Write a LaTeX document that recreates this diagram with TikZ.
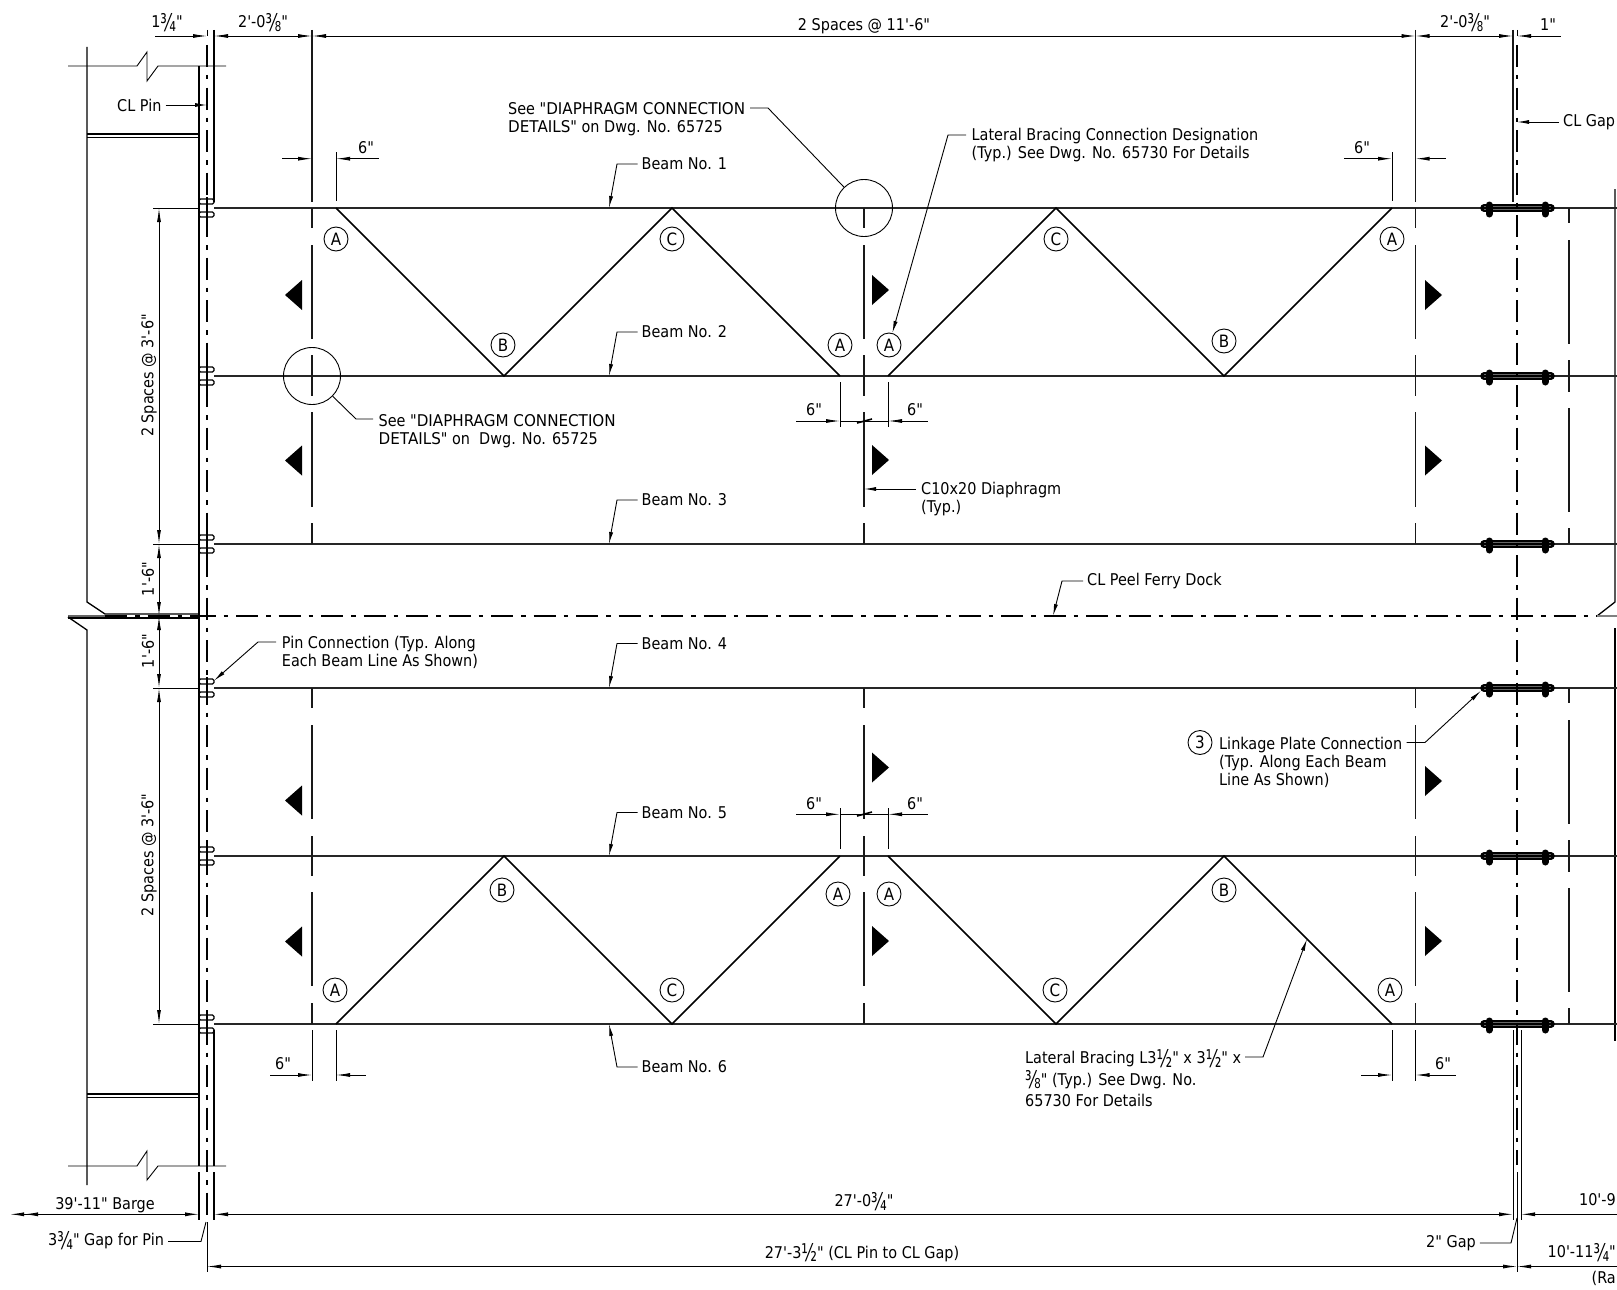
\documentclass[tikz,border=0pt]{standalone}
\usepackage{fontspec}
\setmainfont{DejaVu Sans}[FakeStretch=0.89,Ligatures=TeXOff]
\newfontface\capsface{DejaVu Sans}[FakeStretch=0.935,Ligatures=TeXOff]
\newcommand{\frc}[1]{\smash{\raisebox{-3.5pt}{\scalebox{1.12}[1.5]{#1}}}}
\usetikzlibrary{arrows.meta}
\usetikzlibrary{positioning}
\tikzset{>={Latex[length=14pt,width=4pt]},
  lbl/.style={inner xsep=4pt,inner ysep=0pt,align=left,font=\fontsize{16.2}{18}\selectfont},
  beamline/.style={line width=1.8pt,draw=black!85},
  wall/.style={line width=1.3pt},
  brace/.style={line width=1.6pt},
  hidden/.style={line width=1.4pt,draw=black!90},
  dimline/.style={line width=0.9pt},
  lead/.style={line width=0.9pt,-{Latex[length=12pt,width=4pt]}},
  cline/.style={line width=1.4pt,dash pattern=on 22pt off 8pt on 4.5pt off 8pt},
  tag/.style={circle,draw,line width=0.9pt,minimum size=24pt,inner sep=0pt,font=\fontsize{17}{18}\selectfont},
  bigcirc/.style={circle,draw,line width=0.9pt,minimum size=57pt,inner sep=0pt},
  flag/.style={fill=black}}

\begin{document}
\begin{tikzpicture}[x=1pt,y=-1pt]
\useasboundingbox (0,0) rectangle (1617,1290);
\clip (0,0) rectangle (1617,1290);

% barge end
\draw[wall] (87,47) -- (87,602) -- (105,614) -- (199,614);
\draw[wall] (68,618) -- (199,618);
\draw[line width=2pt,draw=black!60] (68,616) -- (105,616);
\draw[wall] (68,617) -- (87,630) -- (87,1185);
\draw[wall] (199,66) -- (199,1166);
\draw[wall] (199,1172) -- (199,1220);
\draw[wall] (214,30) -- (214,202);
\draw[wall] (214,1030) -- (214,1166);
\draw[wall] (214,1172) -- (214,1220);
\draw[wall] (87,134) -- (199,134);
\draw[wall] (87,137.7) -- (199,137.7);
\draw[wall] (87,1094) -- (199,1094);
\draw[wall] (87,1097.7) -- (199,1097.7);
\draw[dimline] (68,66) -- (137,66) -- (147,52) -- (147,81) -- (158,66) -- (226,66);
\draw[dimline] (68,1166) -- (137,1166) -- (147,1151) -- (147,1180) -- (158,1166) -- (226,1166);

% right hand barge
\draw[wall] (1615,189) -- (1615,602) -- (1597,616);
\draw[wall] (1615,628) -- (1615,1041);
\draw[line width=2pt,draw=black!50] (1597,616) -- (1617,616);

% beams and centre lines
\foreach \y in {208,376,544,688,856,1024} {
  \draw[beamline] (214,\y) -- (1617,\y);
  \draw[wall,rounded corners=1.5pt] (199,\y-9) rectangle (214,\y-4);
  \draw[wall,rounded corners=1.5pt] (199,\y+4) rectangle (214,\y+9);
  \draw[wall] (207,\y-11) -- (207,\y+11);
  \draw[line width=7.6pt,line cap=round,draw=black] (1484,\y) -- (1551,\y);
  \draw[line width=0.6pt,draw=black!60] (1484,\y-1.5) -- (1551,\y-1.5);
  \draw[line width=0.6pt,draw=black!60] (1484,\y+1.5) -- (1551,\y+1.5);
  \draw[line width=7pt,line cap=round] (1489,\y-3) -- (1489,\y+6);
  \draw[line width=7pt,line cap=round] (1545,\y-3) -- (1545,\y+6);
}
\draw[cline,dash phase=5.5pt] (199,616) -- (1597,616);
\draw[cline] (105,616) -- (199,616);
\draw[cline] (207,45) -- (207,1218);
\draw[cline] (1517,45) -- (1517,1165);

% diaphragm lines
\foreach \x in {312,864,1415.5} {
  \draw[hidden] (\x,208) -- (\x,228);
  \draw[hidden] (\x,245) -- (\x,339);
  \draw[hidden] (\x,355) -- (\x,396);
  \draw[hidden] (\x,412) -- (\x,507);
  \draw[hidden] (\x,523) -- (\x,544);
  \draw[hidden] (\x,688) -- (\x,708);
  \draw[hidden] (\x,725) -- (\x,819);
  \draw[hidden] (\x,836) -- (\x,876);
  \draw[hidden] (\x,892) -- (\x,986);
  \draw[hidden] (\x,1003) -- (\x,1024);
}
\draw[hidden] (312,30) -- (312,202);
\draw[hidden] (1415.5,30) -- (1415.5,202);
\draw[hidden] (1513,30) -- (1513,202);
\foreach \a/\b in {208/223,240/344,360/392,408/512,528/544,688/703,720/824,840/872,888/992,1008/1024}
  \draw[hidden] (1569,\a) -- (1569,\b);
\draw[dimline] (1513,1030) -- (1513,1220);
\draw[dimline] (1521,1030) -- (1521,1220);

% section flags
\foreach \y in {295,460.5,800.5,941.5}
  \fill[flag] (285,\y) -- (302,\y-15) -- (302,\y+15) -- cycle;
\foreach \y in {290,460,767.5,941}
  \fill[flag] (889,\y) -- (872,\y-15) -- (872,\y+15) -- cycle;
\foreach \y in {295,460.5,781,941}
  \fill[flag] (1442,\y) -- (1425,\y-15) -- (1425,\y+15) -- cycle;

% lateral bracing
\draw[brace] (336,208) -- (504,376) -- (672,208) -- (840,376);
\draw[brace] (888,376) -- (1056,208) -- (1224,376) -- (1392,208);
\draw[brace] (336,1024) -- (504,856) -- (672,1024) -- (840,856);
\draw[brace] (888,856) -- (1056,1024) -- (1224,856) -- (1392,1024);
\node (a1) at (336,239) [tag] {A};
\node (c1) at (672,239) [tag] {C};
\node (b1) at (503,345) [tag] {B};
\node (a2) at (840,345) [tag] {A};
\node (a3) at (889,345) [tag] {A};
\node (c2) at (1056,239) [tag] {C};
\node (b2) at (1224,341) [tag] {B};
\node (a4) at (1392,239) [tag] {A};
\node (a5) at (335,990) [tag] {A};
\node (b3) at (502,890) [tag] {B};
\node (c3) at (672,990) [tag] {C};
\node (a6) at (838,894) [tag] {A};
\node (a7) at (889,894) [tag] {A};
\node (c4) at (1055,990) [tag] {C};
\node (b4) at (1224,890) [tag] {B};
\node (a8) at (1390,990) [tag] {A};
\node (circ1) at (864,208) [bigcirc] {};
\node (circ2) at (312,376) [bigcirc] {};
\node (three) at (1200,742.5) [tag] {3};

% top dimensions
\node (d1) at (167,22) [lbl] {1\frc{¾}"};
\node (d2) at (263,22) [lbl] {2'-0\frc{⅜}"};
\node (d3) at (864,26) [lbl] {2 Spaces @ 11'-6"};
\node (d4) at (1465,22) [lbl] {2'-0\frc{⅜}"};
\node (d5) at (1548,25) [lbl] {1"};
\draw[dimline] (207,30) -- (207,36);
\draw[dimline] (1517,30) -- (1517,36);
\draw[dimline,->] (155,36) -- (207,36);
\draw[dimline,<->] (214,36) -- (312,36);
\draw[dimline,<->] (312,36) -- (1415.5,36);
\draw[dimline,<->] (1415.5,36) -- (1513,36);
\draw[dimline,<-] (1517,36) -- (1561,36);

% six inch offsets
\draw[dimline] (336,152) -- (336,201);
\draw[dimline] (1392,152) -- (1392,201);
\draw[dimline,->] (282,158.7) -- (312,158.7);
\draw[dimline,<-] (336,158.7) -- (379,158.7);
\draw[dimline,->] (1344,158.7) -- (1392,158.7);
\draw[dimline,<-] (1415.5,158.7) -- (1446,158.7);
\node (s1) at (366,148) [lbl] {6"};
\node (s2) at (1362,148) [lbl] {6"};
\draw[dimline] (840,382) -- (840,427);
\draw[dimline] (888,382) -- (888,427);
\draw[dimline,->] (796,421) -- (840,421);
\draw[dimline,<-] (888,421) -- (928,421);
\draw[dimline] (840,421) -- (888,421);
\draw[line width=1.6pt] (857,423) -- (872,419);
\node (s3) at (814,410) [lbl] {6"};
\node (s4) at (915,410) [lbl] {6"};
\draw[dimline] (840,808) -- (840,849);
\draw[dimline] (888,808) -- (888,849);
\draw[dimline,->] (796,814.3) -- (840,814.3);
\draw[dimline,<-] (888,814.3) -- (928,814.3);
\draw[dimline] (840,814.3) -- (888,814.3);
\draw[line width=1.6pt] (857,816) -- (872,812);
\node (s5) at (814,804) [lbl] {6"};
\node (s6) at (915,804) [lbl] {6"};
\draw[dimline] (312,1030) -- (312,1081);
\draw[dimline] (336,1030) -- (336,1081);
\draw[dimline] (1392,1030) -- (1392,1081);
\draw[dimline] (1415.5,1030) -- (1415.5,1081);
\draw[dimline,->] (270,1075) -- (312,1075);
\draw[dimline,<-] (336,1075) -- (366,1075);
\draw[dimline,->] (1361,1075) -- (1392,1075);
\draw[dimline,<-] (1415.5,1075) -- (1456,1075);
\node (s7) at (283,1064) [lbl] {6"};
\node (s8) at (1443,1064) [lbl] {6"};

% vertical dimensions
\draw[dimline] (153,208) -- (199,208);
\draw[dimline] (153,544) -- (199,544);
\draw[dimline] (153,688) -- (199,688);
\draw[dimline] (153,1024) -- (199,1024);
\draw[dimline,<->] (159,208) -- (159,544);
\draw[dimline,<->] (159,544) -- (159,616);
\draw[dimline,<->] (159,616) -- (159,688);
\draw[dimline,<->] (159,688) -- (159,1024);
\node (v1) at (149,375.5) [lbl,rotate=90] {2 Spaces @ 3'-6"};
\node (v2) at (148,579) [lbl,rotate=90] {1'-6"};
\node (v3) at (148,651) [lbl,rotate=90] {1'-6"};
\node (v4) at (149,855) [lbl,rotate=90] {2 Spaces @ 3'-6"};

% beam labels
\node (beam1) at (637.5,164) [lbl,anchor=west] {Beam No. 1};
\node (beam2) at (637.5,332) [lbl,anchor=west] {Beam No. 2};
\node (beam3) at (637.5,500) [lbl,anchor=west] {Beam No. 3};
\node (beam4) at (637.5,643.5) [lbl,anchor=west] {Beam No. 4};
\node (beam5) at (637.5,812.5) [lbl,anchor=west] {Beam No. 5};
\node (beam6) at (637.5,1067) [lbl,anchor=west] {Beam No. 6};
\coordinate (tip1) at (609,208);
\coordinate (tip2) at (609,376);
\coordinate (tip3) at (609,544);
\coordinate (tip4) at (609,688);
\coordinate (tip5) at (609,856);
\coordinate (tip6) at (609,1024);
\draw[lead] (beam1.west) -- (617,164) -- (tip1);
\draw[lead] (beam2.west) -- (617,332) -- (tip2);
\draw[lead] (beam3.west) -- (617,500) -- (tip3);
\draw[lead] (beam4.west) -- (617,643.5) -- (tip4);
\draw[lead] (beam5.west) -- (617,812.5) -- (tip5);
\draw[lead] (beam6.west) -- (617,1067) -- (tip6);

% notes and leaders
\node (clpin) at (113,105) [lbl,anchor=west] {CL Pin};
\coordinate (pintip) at (207,105);
\draw[lead] (clpin.east) -- (pintip);
\node (clgap) at (1559,122) [lbl,anchor=west] {CL Gap};
\coordinate (gaptip) at (1517,122);
\draw[lead] (clgap.west) -- (gaptip);
\node (diaone) at (504,119.5) [lbl,anchor=west] {See "{\capsface DIAPHRAGM CONNECTION}\\{\capsface DETAILS}" on Dwg. No. 65725};
\coordinate (diaonea) at (750,108);
\draw[line width=0.9pt] (diaonea) -- (768,108) -- (circ1);
\node (diatwo) at (374.5,431) [lbl,anchor=west] {See "{\capsface DIAPHRAGM CONNECTION}\\{\capsface DETAILS}" on~ Dwg. No. 65725};
\coordinate (diatwoa) at (373,419);
\draw[line width=0.9pt] (diatwoa) -- (356,419) -- (circ2);
\node (desig) at (967.5,145.5) [lbl,anchor=west] {Lateral Bracing Connection Designation\\(Typ.) See Dwg. No. 65730 For Details};
\coordinate (desiga) at (966,135);
\draw[lead] (desiga) -- (948,135) -- (a3);
\node (chan) at (917,499) [lbl,anchor=west] {C10x20 Diaphragm\\(Typ.)};
\coordinate (chana) at (916,489);
\coordinate (chantip) at (864,489);
\draw[lead] (chana) -- (chantip);
\node (dock) at (1083,581) [lbl,anchor=west] {CL Peel Ferry Dock};
\coordinate (docktip) at (1053,616);
\draw[lead] (dock.west) -- (1062,581) -- (docktip);
\node (pinc) at (277.7,652.5) [lbl,anchor=west] {Pin Connection (Typ. Along\\Each Beam Line As Shown)};
\coordinate (pinca) at (276,642);
\coordinate (pinctip) at (214,680.7);
\draw[lead] (pinca) -- (258,642) -- (pinctip);
\node (link) at (1215,762) [lbl,anchor=west] {Linkage Plate Connection\\(Typ. Along Each Beam\\Line As Shown)};
\coordinate (linka) at (1406.7,742.5);
\coordinate (linktip) at (1481,690.7);
\draw[lead] (linka) -- (1425,742.5) -- (linktip);
\node (brace) at (1021,1079) [lbl,anchor=west,font=\fontsize{16.2}{21.5}\selectfont] {Lateral Bracing L3\frc{½}" x 3\frc{½}" x\\\frc{⅜}" (Typ.) See Dwg. No.\\65730 For Details};
\coordinate (bracea) at (1245,1057);
\coordinate (bracetip) at (1307,939);
\draw[lead] (bracea) -- (1263,1057) -- (bracetip);

% bottom dimensions
\node (barge) at (105,1205) [lbl] {39'-11" Barge};
\node (span) at (864,1201) [lbl] {27'-0\frc{¾}"};
\node (cl) at (862,1254) [lbl] {27'-3\frc{½}" (CL Pin to CL Gap)};
\node (nine) at (1620,1200) [lbl,anchor=east] {10'-9};
\node (eleven) at (1620,1252) [lbl,anchor=east] {10'-11\frc{¾}"};
\node (ra) at (1620,1278) [lbl,anchor=east] {(Ra};
\draw[dimline,{Latex[length=14pt,width=4pt]Latex[length=14pt,width=4pt]}->] (10,1214.3) -- (199,1214.3);
\draw[dimline,<->] (214,1214.3) -- (1513,1214.3);
\draw[dimline,<-] (1521,1214.3) -- (1617,1214.3);
\draw[dimline,<->] (207,1266.5) -- (1517,1266.5);
\draw[dimline,<-] (1517,1266.5) -- (1617,1266.5);
\draw[dimline] (207,1222) -- (207,1272);
\draw[dimline] (1517,1172) -- (1517,1272);
\node (gapa) at (44,1241.5) [lbl,anchor=west] {3\frc{¾}" Gap for Pin};
\coordinate (gapatip) at (206,1222);
\draw[line width=0.9pt] (gapa.east) -- (201,1241.5) -- (gapatip);
\node (gapb) at (1422,1243) [lbl,anchor=west] {2" Gap};
\coordinate (gapbtip) at (1517,1218);
\draw[line width=0.9pt] (gapb.east) -- (1511,1243) -- (gapbtip);
\end{tikzpicture}
\end{document}
